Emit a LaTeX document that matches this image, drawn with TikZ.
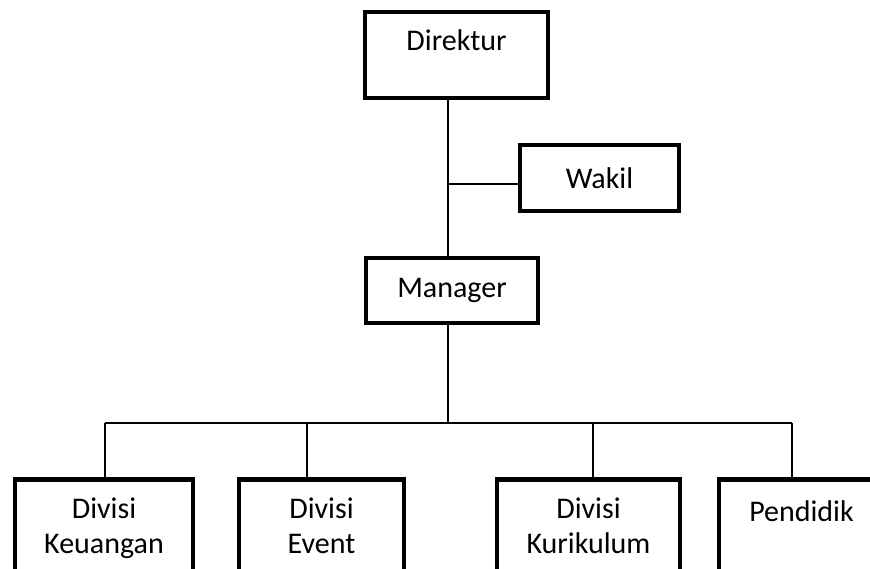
\documentclass[tikz,border=0pt]{standalone}
\usepackage{fontspec}
\setmainfont{Carlito}
\usetikzlibrary{positioning,calc}

\tikzset{
  jabatan/.style={draw,line width=4.5pt,inner sep=0pt,align=center,
    font=\fontsize{30}{35}\selectfont},
  divisi/.style={jabatan,anchor=north,minimum height=100pt,text depth=8pt},
  garis/.style={line width=1.5pt}
}

\begin{document}
\begin{tikzpicture}[x=1pt,y=-1pt]
  \useasboundingbox (0,0) rectangle (870,569);
  \clip (0,0) rectangle (870,569);
  % struktur atas
  \node[jabatan,minimum width=183pt,minimum height=86pt,text depth=30pt] (direktur) at (456.5,55) {Direktur};
  \node[jabatan,minimum width=159pt,minimum height=66pt] (wakil) at (599.5,178) {Wakil};
  \node[jabatan,minimum width=172pt,minimum height=65pt] (manager) at (452,290.5) {Manager};
  % divisi
  \node[divisi,minimum width=178pt] (keuangan) at (104,477) {Divisi\\Keuangan};
  \node[divisi,minimum width=165pt] (event) at (321.5,477) {Divisi\\Event};
  \node[divisi,minimum width=183pt] (kurikulum) at (588.5,477) {Divisi\\Kurikulum};
  \node[divisi,minimum width=165pt,text depth=36pt] (pendidik) at (801.5,477) {Pendidik};
  % titik cabang
  \coordinate (jw) at (448,184);
  \coordinate (bus) at (448,423);
  \coordinate (d1) at (105,423);
  \coordinate (d2) at (307,423);
  \coordinate (d3) at (593,423);
  \coordinate (d4) at (792,423);
  \draw[garis] (direktur.south -| jw) -- (manager.north -| jw);
  \draw[garis] (jw) -- (jw -| wakil.west);
  \draw[garis] (manager.south -| bus) -- (bus);
  \draw[garis] (d1) -- (d4);
  \foreach \d/\n in {d1/keuangan,d2/event,d3/kurikulum,d4/pendidik}
    \draw[garis] (\d) -- (\d |- \n.north);
\end{tikzpicture}
\end{document}
